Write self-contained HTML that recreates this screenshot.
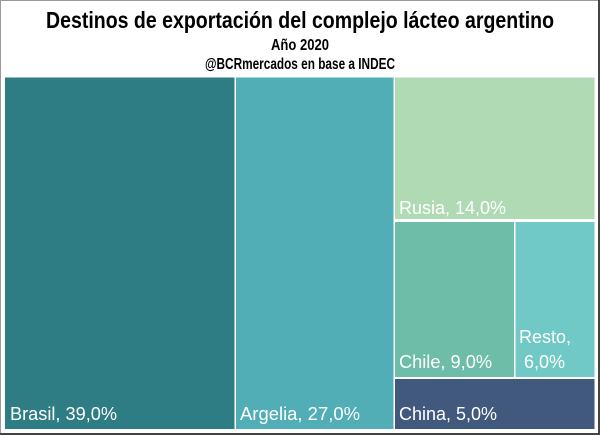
<!DOCTYPE html>
<html><head><meta charset="utf-8"><style>
html,body{margin:0;padding:0;background:#fff;}
svg{display:block;}
text{font-family:"Liberation Sans",sans-serif;}
</style></head><body>
<svg width="600" height="435" viewBox="0 0 600 435" xmlns="http://www.w3.org/2000/svg">
<rect x="0" y="0" width="600" height="435" fill="#fff"/>
<rect x="0.5" y="0.5" width="598" height="433" fill="none" stroke="#9a9a9a" stroke-width="1"/>
<line x1="0" y1="434" x2="600" y2="434" stroke="#444" stroke-width="2"/>
<line x1="599" y1="0" x2="599" y2="435" stroke="#444" stroke-width="2"/>
<g font-weight="bold" text-anchor="middle" fill="#000" font-family="'Liberation Sans Narrow','Liberation Sans',sans-serif">
<text x="300" y="28" font-size="23" textLength="508" lengthAdjust="spacingAndGlyphs">Destinos de exportación del complejo lácteo argentino</text>
<text x="300" y="50" font-size="16" textLength="58" lengthAdjust="spacingAndGlyphs">Año 2020</text>
<text x="300" y="69" font-size="16" textLength="190" lengthAdjust="spacingAndGlyphs">@BCRmercados en base a INDEC</text>
</g>
<rect x="5" y="77.5" width="229.5" height="351.5" fill="#2e7d85"/>
<rect x="236" y="77.5" width="157.5" height="351.5" fill="#52aeb6"/>
<rect x="395" y="77.5" width="199.5" height="141.5" fill="#b0dab4"/>
<rect x="395" y="222" width="119" height="155" fill="#6ebda8"/>
<rect x="515.5" y="222" width="79" height="155" fill="#70c9c4"/>
<rect x="395" y="379" width="199.5" height="50" fill="#41597d"/>
<g fill="#fff" font-size="18">
<text x="10" y="420" textLength="107" lengthAdjust="spacingAndGlyphs">Brasil, 39,0%</text>
<text x="240" y="420" textLength="120" lengthAdjust="spacingAndGlyphs">Argelia, 27,0%</text>
<text x="399" y="214" textLength="107" lengthAdjust="spacingAndGlyphs">Rusia, 14,0%</text>
<text x="399" y="368" textLength="93" lengthAdjust="spacingAndGlyphs">Chile, 9,0%</text>
<text x="519" y="343">Resto,</text>
<text x="524" y="368">6,0%</text>
<text x="399" y="420" textLength="98" lengthAdjust="spacingAndGlyphs">China, 5,0%</text>
</g>
</svg>
</body></html>
